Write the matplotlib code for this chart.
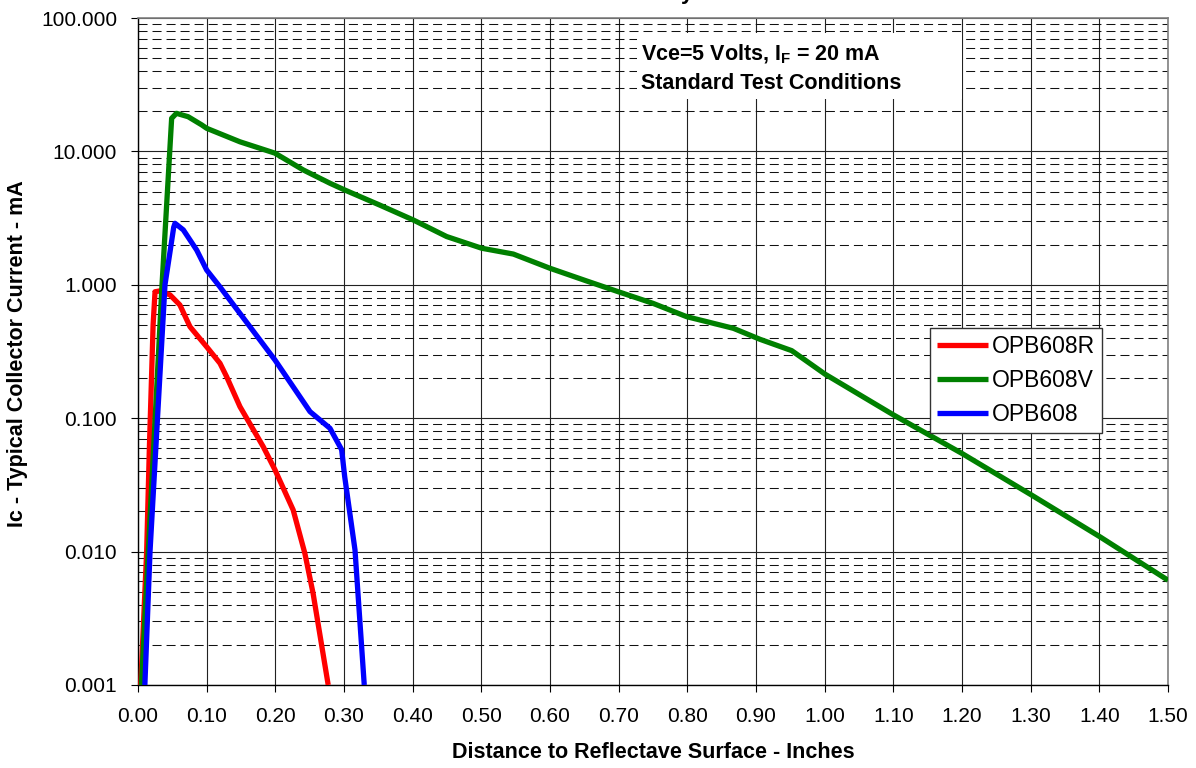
import matplotlib
matplotlib.use("Agg")
import matplotlib.pyplot as plt
from matplotlib.ticker import FixedLocator, FuncFormatter, LogLocator, NullFormatter
from matplotlib.patches import Rectangle

plt.rcParams['font.family'] = ['Liberation Sans', 'DejaVu Sans']
plt.rcParams['mathtext.fontset'] = 'custom'
plt.rcParams['mathtext.rm'] = 'Liberation Sans'
plt.rcParams['mathtext.bf'] = 'Liberation Sans:bold'
plt.rcParams['lines.scale_dashes'] = False

# ---- data ----
x_r = [0.004, 0.0126, 0.0165, 0.022, 0.0248, 0.032, 0.0466, 0.061, 0.0757, 0.1,
       0.1194, 0.129, 0.1485, 0.1825, 0.1995, 0.226, 0.243, 0.255, 0.277]
y_r = [0.001, 0.01, 0.058, 0.5, 0.887, 0.90, 0.84, 0.706, 0.485, 0.343,
       0.258, 0.205, 0.122, 0.061, 0.041, 0.0205, 0.0097, 0.00486, 0.001]

x_v = [0.005, 0.015, 0.035, 0.049, 0.056, 0.073, 0.0928, 0.1, 0.1485, 0.1995,
       0.2407, 0.2796, 0.301, 0.352, 0.401, 0.4495, 0.5005, 0.5466, 0.6, 0.653,
       0.6995, 0.75, 0.799, 0.867, 0.906, 0.952, 1.0005, 1.1, 1.1995, 1.301,
       1.401, 1.5]
y_v = [0.001, 0.01, 1.0, 17.7, 19.3, 18.2, 15.8, 14.9, 11.8, 9.7,
       7.26, 5.77, 5.14, 3.96, 3.06, 2.30, 1.88, 1.70, 1.33, 1.07,
       0.887, 0.726, 0.577, 0.472, 0.39, 0.321, 0.214, 0.106, 0.0546, 0.0266,
       0.0129, 0.0061]

x_b = [0.010, 0.0175, 0.0393, 0.047, 0.052, 0.0539, 0.066, 0.0855, 0.1, 0.119,
       0.1485, 0.1995, 0.2505, 0.2796, 0.2966, 0.301, 0.316, 0.3295]
y_b = [0.001, 0.01, 1.0, 1.82, 2.7, 2.89, 2.58, 1.82, 1.29, 0.97,
       0.61, 0.273, 0.112, 0.084, 0.058, 0.0365, 0.0103, 0.001]

series_names = ["OPB608R", "OPB608V", "OPB608"]
series_colors = ["#ff0000", "#008000", "#0000ff"]

x_ticks = [i / 10 for i in range(16)]
y_ticks = [0.001, 0.01, 0.1, 1, 10, 100]

W, H = 1196, 768
fig = plt.figure(figsize=(W / 100, H / 100), dpi=100)
L, R, T, B = 138, 1168, 18, 685
ax = fig.add_axes([L / W, 1 - B / H, (R - L) / W, (B - T) / H])

ax.set_yscale('log')
ax.set_xlim(0, 1.5)
ax.set_ylim(0.001, 100)
ax.set_axisbelow(True)

ax.xaxis.set_major_locator(FixedLocator(x_ticks))
ax.xaxis.set_major_formatter(FuncFormatter(lambda v, p: f"{v:.2f}"))
ax.yaxis.set_major_locator(FixedLocator(y_ticks))
ax.yaxis.set_major_formatter(FuncFormatter(lambda v, p: f"{v:.3f}"))
ax.yaxis.set_minor_locator(LogLocator(base=10, subs=range(2, 10), numticks=20))
ax.yaxis.set_minor_formatter(NullFormatter())

ax.grid(True, which='major', axis='both', color='#222222', linewidth=0.8, linestyle='-')
ax.grid(True, which='minor', axis='y', color='#111111', linewidth=0.75,
        linestyle=(0, (6.5, 3.6)))

ax.tick_params(axis='both', which='major', direction='out', length=5, width=0.8,
               labelsize=15, colors='black')
ax.tick_params(axis='y', which='minor', length=0)
ax.tick_params(axis='y', which='major', pad=10)
ax.tick_params(axis='x', which='major', pad=11)

for side in ['top', 'right']:
    ax.spines[side].set_color('#808080')
    ax.spines[side].set_linewidth(1.2)
for side in ['left', 'bottom']:
    ax.spines[side].set_color('black')
    ax.spines[side].set_linewidth(1.0)

def ax_x(px):
    return (px - L) / (R - L)

def ax_y(py):
    return (B - py) / (B - T)

# white box behind annotation
ax.add_patch(Rectangle((ax_x(637), ax_y(99)), ax_x(962) - ax_x(637), ax_y(33) - ax_y(99),
                       transform=ax.transAxes, facecolor='white', edgecolor='none', zorder=1))

for xs, ys, name, col in zip([x_r, x_v, x_b], [y_r, y_v, y_b], series_names, series_colors):
    ax.plot(xs, ys, color=col, linewidth=3.8, label=name, zorder=3,
            solid_joinstyle='round', solid_capstyle='butt')

ax.text(ax_x(641), ax_y(60), r"Vce=5 Volts, I$_\mathbf{F}$ = 20 mA", transform=ax.transAxes,
        fontsize=15.5, fontweight='bold', ha='left', va='baseline', zorder=4)
ax.text(ax_x(641), ax_y(89), "Standard Test Conditions", transform=ax.transAxes,
        fontsize=15.5, fontweight='bold', ha='left', va='baseline', zorder=4)

leg = ax.legend(loc='upper left', bbox_to_anchor=(ax_x(930), ax_y(328)),
                fontsize=16.5, frameon=True, fancybox=False, framealpha=1,
                edgecolor='#333333', handlelength=2.25, handletextpad=0.15,
                labelspacing=0.48, borderpad=0.3, borderaxespad=0)
leg.get_frame().set_linewidth(1.0)
leg.set_zorder(5)

fig.text(0.5 * (L + R) / W, 1 - 752 / H, "Distance to Reflectave Surface - Inches",
         ha='center', va='center', fontsize=15.5, fontweight='bold')
fig.text(18 / W, 1 - 354 / H, "Ic - Typical Collector Current - mA",
         ha='center', va='center', rotation=90, fontsize=15.5, fontweight='bold')
fig.text(693 / W, 1 + 1.5 / H, "Distance Sensitivity", ha='right', va='baseline',
         fontsize=16, fontweight='bold')

fig.savefig("out.png", dpi=100, facecolor='white')
